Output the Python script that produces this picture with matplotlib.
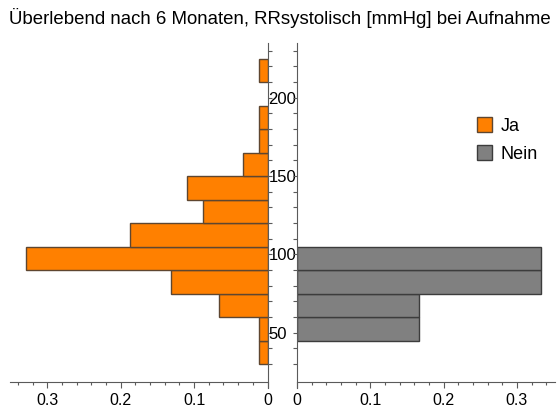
import numpy as np
import matplotlib
matplotlib.use("Agg")
import matplotlib.pyplot as plt
from matplotlib.ticker import MultipleLocator, FixedLocator
from matplotlib.patches import Patch

plt.rcParams['font.family'] = ['Liberation Sans', 'DejaVu Sans']

# RR systolisch bins (mmHg), width 15
bin_lo = np.arange(30, 225, 15)
ja_counts = np.array([1, 1, 6, 12, 30, 17, 8, 10, 3, 1, 1, 0, 1])
nein_counts = np.array([0, 1, 1, 2, 2, 0, 0, 0, 0, 0, 0, 0, 0])
labels = ['Ja', 'Nein']
title = "Überlebend nach 6 Monaten, RRsystolisch [mmHg] bei Aufnahme"

ja_frac = ja_counts / ja_counts.sum()
nein_frac = nein_counts / nein_counts.sum()

c_ja, e_ja = '#ff8000', '#5e4630'
c_nein, e_nein = '#808080', '#3c3c3c'
axis_col = '#5a5a5a'

fig = plt.figure(figsize=(5.6, 4.07), dpi=100)
ax_l = fig.add_axes([0.0179, 0.0467, 0.4598, 0.8477])
ax_r = fig.add_axes([0.5304, 0.0467, 0.4607, 0.8477])

m = ja_frac > 0
ax_l.barh(bin_lo[m], ja_frac[m], height=15, align='edge',
          color=c_ja, edgecolor=e_ja, linewidth=1)
m = nein_frac > 0
ax_r.barh(bin_lo[m], nein_frac[m], height=15, align='edge',
          color=c_nein, edgecolor=e_nein, linewidth=1)

for ax in (ax_l, ax_r):
    ax.set_ylim(14.7, 235)
    ax.spines['top'].set_visible(False)
    ax.spines['bottom'].set_position(('data', 18.8))
    ax.spines['bottom'].set_color(axis_col)
    ax.xaxis.set_major_locator(MultipleLocator(0.1))
    ax.xaxis.set_minor_locator(MultipleLocator(0.02))
    ax.tick_params(axis='x', which='major', length=4.5, width=0.8,
                   color=axis_col, labelsize=11.5, pad=4)
    ax.tick_params(axis='x', which='minor', length=2.5, width=0.8,
                   color=axis_col)
    ax.yaxis.set_major_locator(MultipleLocator(50))
    ax.yaxis.set_minor_locator(FixedLocator(np.arange(30, 231, 10)))
    ax.tick_params(axis='y', which='both', length=3, width=0.8,
                   color=axis_col, labelsize=12)
    ax.xaxis.set_major_formatter(lambda v, p: f"{v:g}")

ax_l.set_xlim(0.351, 0)
ax_l.spines['left'].set_visible(False)
ax_l.spines['right'].set_color(axis_col)
ax_l.yaxis.tick_right()
ax_l.tick_params(axis='y', which='major', pad=-2.2)

ax_r.set_xlim(0, 0.352)
ax_r.spines['right'].set_visible(False)
ax_r.spines['left'].set_color(axis_col)
ax_r.tick_params(axis='y', which='both', labelleft=False)

fig.text(0.5, 0.955, title, ha='center', va='center', fontsize=13.4)

handles = [Patch(facecolor=c_ja, edgecolor=e_ja, label=labels[0]),
           Patch(facecolor=c_nein, edgecolor=e_nein, label=labels[1])]
fig.legend(handles=handles, loc='upper left', bbox_to_anchor=(0.822, 0.752),
           frameon=False, fontsize=13, handlelength=0.85, handleheight=0.85,
           handletextpad=0.5, labelspacing=0.6)

fig.savefig('out.png', dpi=100)
